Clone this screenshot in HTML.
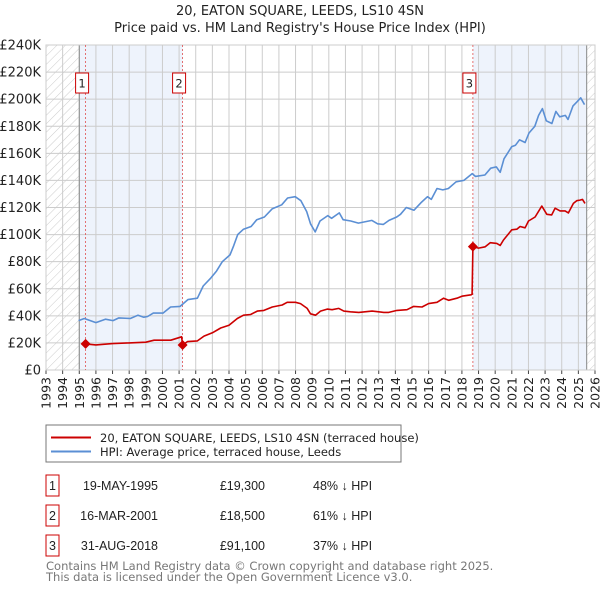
<!DOCTYPE html>
<html><head><meta charset="utf-8"><style>
body{margin:0;background:#fff;font-family:"Liberation Sans","DejaVu Sans",sans-serif;}
svg text{font-family:"DejaVu Sans","Liberation Sans",sans-serif;}
</style></head><body>
<svg id="c" width="600" height="590" xmlns="http://www.w3.org/2000/svg">
<defs><pattern id="hatch" width="6" height="6" patternUnits="userSpaceOnUse" patternTransform="rotate(45)"><line x1="0" y1="0" x2="0" y2="6" stroke="#ccc" stroke-width="1"/></pattern></defs>
<text x="300" y="15" text-anchor="middle" font-size="13" fill="#222">20, EATON SQUARE, LEEDS, LS10 4SN</text>
<text x="300" y="32" text-anchor="middle" font-size="13" fill="#222">Price paid vs. HM Land Registry's House Price Index (HPI)</text>
<g id="plot"></g>
<g>
<rect x="46" y="425" width="355" height="37" fill="#fff" stroke="#777"/>
<line x1="51" y1="437.5" x2="91" y2="437.5" stroke="#cc0000" stroke-width="2"/>
<text x="100" y="442" font-size="11.5" fill="#222">20, EATON SQUARE, LEEDS, LS10 4SN (terraced house)</text>
<line x1="51" y1="451.5" x2="91" y2="451.5" stroke="#5b8fd4" stroke-width="2"/>
<text x="100" y="456" font-size="11.5" fill="#222">HPI: Average price, terraced house, Leeds</text>
</g>
<g id="table" font-size="11.5" fill="#222"></g>
<text x="46" y="570" font-size="11.5" fill="#777">Contains HM Land Registry data © Crown copyright and database right 2025.</text>
<text x="46" y="581" font-size="11.5" fill="#777">This data is licensed under the Open Government Licence v3.0.</text>
</svg>
<script>
const hpiYears=[1994.96,1995.30,1996.0,1996.57,1997.03,1997.38,1998.07,1998.53,1998.88,1999.11,1999.45,2000.03,2000.49,2001.06,2001.53,2002.10,2002.45,2002.91,2003.25,2003.60,2004.06,2004.29,2004.52,2004.87,2005.33,2005.67,2006.13,2006.59,2007.17,2007.52,2007.98,2008.32,2008.67,2008.90,2009.18,2009.47,2009.94,2010.17,2010.63,2010.86,2011.32,2011.78,2012.59,2012.93,2013.28,2013.62,2014.08,2014.31,2014.66,2015.12,2015.58,2015.93,2016.16,2016.50,2016.85,2017.19,2017.65,2018.12,2018.62,2018.81,2019.38,2019.73,2020.07,2020.30,2020.53,2021.0,2021.22,2021.46,2021.80,2022.03,2022.38,2022.61,2022.84,2023.07,2023.41,2023.65,2023.88,2024.22,2024.38,2024.68,2024.91,2025.14,2025.37];
const hpiValues=[36.5,38,35,37.5,36.5,38.5,38,40.5,39,39.5,42,42,46.5,47,52,53,62,68,73,80,85,92,100,104,106,111,113,119,122,127,128,125,117,108,102,110,114,112,116,111,110,108.5,110.5,108,107.5,110.5,113,115,120,118,124,128,126,134,133,134,139,140,145,143,144,149,150,146,156,165,166,170,168,175,180,188,193,184,182,191,187,188,185,195,198,201,196];
const priceYears=[1995.38,1996.0,1997.0,1998.0,1999.0,1999.5,2000.5,2001.15,2001.21,2001.5,2002.1,2002.5,2003.0,2003.5,2004.0,2004.5,2004.87,2005.3,2005.7,2006.1,2006.6,2007.2,2007.5,2008.0,2008.3,2008.7,2008.9,2009.2,2009.5,2009.9,2010.2,2010.6,2010.9,2011.3,2011.8,2012.6,2013.3,2013.6,2014.1,2014.7,2015.1,2015.6,2016.0,2016.5,2016.9,2017.2,2017.7,2018.0,2018.55,2018.61,2018.66,2019.0,2019.4,2019.7,2020.1,2020.3,2020.5,2021.0,2021.3,2021.5,2021.8,2022.0,2022.4,2022.8,2023.1,2023.4,2023.6,2023.9,2024.2,2024.4,2024.7,2024.9,2025.1,2025.25,2025.4];
const priceValues=[19.3,18.5,19.5,20,20.5,22,22,24.5,18.5,21,21.5,25,27.5,31,33,38,40.5,41,43.5,44,46.5,48,50,50,49,45.5,41.5,40.5,43.5,45,44.5,45.5,43.5,43,42.5,43.5,42.5,42.5,44,44.5,47,46.5,49,50,53,51.5,53,54.5,55.5,56,91.1,90,91,94,93.5,92,96,103.5,104,106,105,110,113,121,115,114.5,119.5,117.5,117.5,116,123,125,125.5,126,123];
const saleLabels=["1","2","3"];
const saleYears=[1995.38,2001.21,2018.66];
const saleValues=[19.3,18.5,91.1];
const saleDates=["19-MAY-1995","16-MAR-2001","31-AUG-2018"];
const salePrices=["£19,300","£18,500","£91,100"];
const saleDiffs=["48% ↓ HPI","61% ↓ HPI","37% ↓ HPI"];
const yTicks=[0,20,40,60,80,100,120,140,160,180,200,220,240];
const xTicks=[];for(let y=1993;y<=2026;y++)xTicks.push(y);

const L=46,R=595,T=45,B=370;
const X=y=>L+(y-1993)/(2026-1993)*(R-L);
const Y=v=>B-v/240*(B-T);
const NS="http://www.w3.org/2000/svg";
const plot=document.getElementById('plot');
function mk(tag,attrs,parent){const e=document.createElementNS(NS,tag);for(const k in attrs)e.setAttribute(k,attrs[k]);(parent||plot).appendChild(e);return e;}

mk('rect',{x:L,y:T,width:R-L,height:B-T,fill:'#fff'});
let r=mk('rect',{x:X(1995),y:T,width:X(2001.21)-X(1995),height:B-T,fill:'#eef3fc'});


r=mk('rect',{x:X(2018.66),y:T,width:X(2025.5)-X(2018.66),height:B-T,fill:'#eef3fc'});


r=mk('rect',{x:L,y:T,width:X(1995)-L,height:B-T,fill:'url(#hatch)'});


r=mk('rect',{x:X(2025.5),y:T,width:R-X(2025.5),height:B-T,fill:'url(#hatch)'});



yTicks.forEach(v=>{
  mk('line',{x1:L,x2:R,y1:Y(v),y2:Y(v),stroke:'#cccccc','stroke-width':1});
  const t=mk('text',{x:L-5,y:Y(v)+4.5,'text-anchor':'end','font-size':13,fill:'#222'});
  t.textContent=v===0?'£0':'£'+v+'K';
  
  
});
xTicks.forEach(y=>{
  mk('line',{x1:X(y),x2:X(y),y1:T,y2:B,stroke:'#cccccc','stroke-width':1});
  mk('line',{x1:X(y),x2:X(y),y1:B,y2:B+4,stroke:'#444','stroke-width':1});
  const t=mk('text',{x:0,y:0,'text-anchor':'end','font-size':12.5,fill:'#222',transform:`translate(${X(y)+4.5},${B+7}) rotate(-90)`});
  t.textContent=y;
  
  
});
mk('line',{x1:X(1995),x2:X(1995),y1:T,y2:B,stroke:'#888','stroke-width':1});
mk('line',{x1:X(2025.5),x2:X(2025.5),y1:T,y2:B,stroke:'#888','stroke-width':1});
mk('rect',{x:L,y:T,width:R-L,height:B-T,fill:'none',stroke:'#ccc'});

saleYears.forEach((y,i)=>{
  mk('line',{x1:X(y),x2:X(y),y1:T,y2:B,stroke:'#e05050','stroke-width':0.8,'stroke-dasharray':'2,2'});
  const g=mk('g',{});
  
  
  mk('rect',{x:X(y)-10,y:73,width:13,height:20,fill:'#fff',stroke:'#cc0000'},g);
  const t=mk('text',{x:X(y)-3.5,y:87.5,'text-anchor':'middle','font-size':11.5,fill:'#222'},g);
  t.textContent=saleLabels[i];
});

function line(xs,vs,color,name){
  const d=xs.map((x,i)=>(i?'L':'M')+X(x).toFixed(1)+','+Y(vs[i]).toFixed(1)).join('');
  const p=mk('path',{d:d,fill:'none',stroke:color,'stroke-width':1.6,'stroke-linejoin':'round'});
  
  
}
line(hpiYears,hpiValues,'#5b8fd4','hpi-line');
line(priceYears,priceValues,'#cc0000','price-paid-line');
saleYears.forEach((y,i)=>{
  const cx=X(y),cy=Y(saleValues[i]);
  const p=mk('path',{d:`M${cx},${cy-5}L${cx+5},${cy}L${cx},${cy+5}L${cx-5},${cy}Z`,fill:'#cc0000'});
  
  
});

const tb=document.getElementById('table');
saleLabels.forEach((l,i)=>{
  const yy=476+i*30;
  const g=mk('g',{},tb);
  
  
  mk('rect',{x:46,y:yy-1,width:13,height:21,fill:'#fff',stroke:'#cc0000'},g);
  const cells=[[52.5,l,'middle'],[158,saleDates[i],'end'],[265,salePrices[i],'end'],[313,saleDiffs[i],'start']];
  cells.forEach(c=>{const t=mk('text',{x:c[0],y:yy+14,'text-anchor':c[2],'font-size':11.5,fill:'#222',style:'font-family:Liberation Sans,sans-serif;font-size:12.5px'},g);t.textContent=c[1];});
});
</script>
</body></html>
